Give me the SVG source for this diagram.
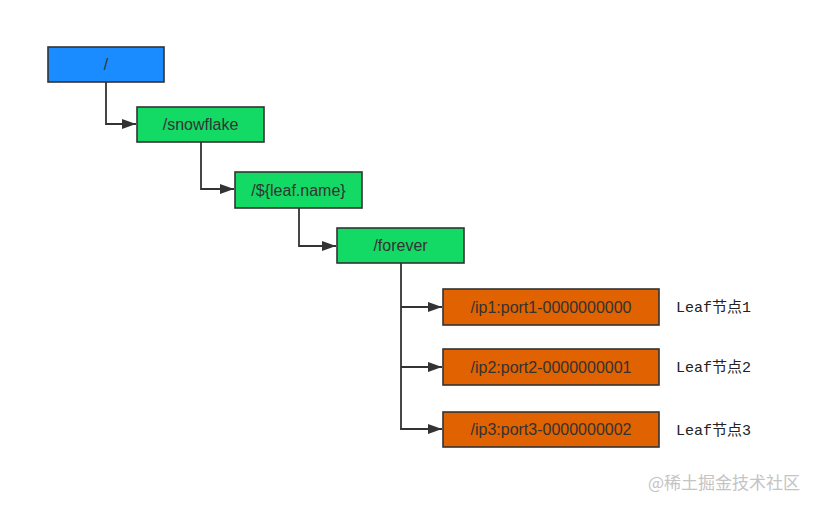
<svg xmlns="http://www.w3.org/2000/svg" width="817" height="509" viewBox="0 0 817 509">
<style>
.box{stroke:#333;stroke-width:1.6}
.blue{fill:#1a8cff}
.green{fill:#13d965}
.orange{fill:#e06200}
.t{font-family:"Liberation Sans",Arial,sans-serif;font-size:16px;fill:#333;text-anchor:middle;dominant-baseline:central}
.lbl{font-family:"Liberation Mono","Noto Sans CJK SC",monospace;font-size:15px;fill:#222}
.wm{font-family:"Noto Sans CJK SC",sans-serif;font-size:17px;fill:#c4c4c4}
.c{fill:none;stroke:#333;stroke-width:1.8}
</style>
<defs>
<marker id="ah" markerWidth="14" markerHeight="10" refX="14" refY="5" orient="auto" markerUnits="userSpaceOnUse">
<path d="M0,0 L14,5 L0,10 Z" fill="#333"/>
</marker>
</defs>
<rect width="817" height="509" fill="#fff"/>
<g id="connectors">
<path class="c" d="M106,82 V124 H136" marker-end="url(#ah)"/>
<path class="c" d="M201,142 V189 H234" marker-end="url(#ah)"/>
<path class="c" d="M299,208 V246 H336" marker-end="url(#ah)"/>
<path class="c" d="M401,263 V429"/>
<path class="c" d="M401,307 H442" marker-end="url(#ah)"/>
<path class="c" d="M401,367 H442" marker-end="url(#ah)"/>
<path class="c" d="M400.1,429 H442" marker-end="url(#ah)"/>
</g>
<g id="root"><rect class="box blue" x="48" y="47" width="116" height="35"/><text class="t" x="106" y="64.5">/</text></g>
<g id="snowflake"><rect class="box green" x="137" y="107" width="127" height="35"/><text class="t" x="200.5" y="124.5">/snowflake</text></g>
<g id="leafname"><rect class="box green" x="235" y="172" width="127" height="36"/><text class="t" x="298.5" y="190">/${leaf.name}</text></g>
<g id="forever"><rect class="box green" x="337" y="228" width="127" height="35"/><text class="t" x="400.5" y="245.5">/forever</text></g>
<g id="ip1"><rect class="box orange" x="443" y="289" width="216" height="36"/><text class="t" x="551" y="307">/ip1:port1-0000000000</text></g>
<g id="ip2"><rect class="box orange" x="443" y="349" width="216" height="36"/><text class="t" x="551" y="367">/ip2:port2-0000000001</text></g>
<g id="ip3"><rect class="box orange" x="443" y="412" width="216" height="35"/><text class="t" x="551" y="429.5">/ip3:port3-0000000002</text></g>
<g id="labels">
<text class="lbl" x="676" y="312">Leaf节点1</text>
<text class="lbl" x="676" y="372">Leaf节点2</text>
<text class="lbl" x="676" y="435">Leaf节点3</text>
</g>
<text class="wm" x="648" y="489">@稀土掘金技术社区</text>
</svg>
